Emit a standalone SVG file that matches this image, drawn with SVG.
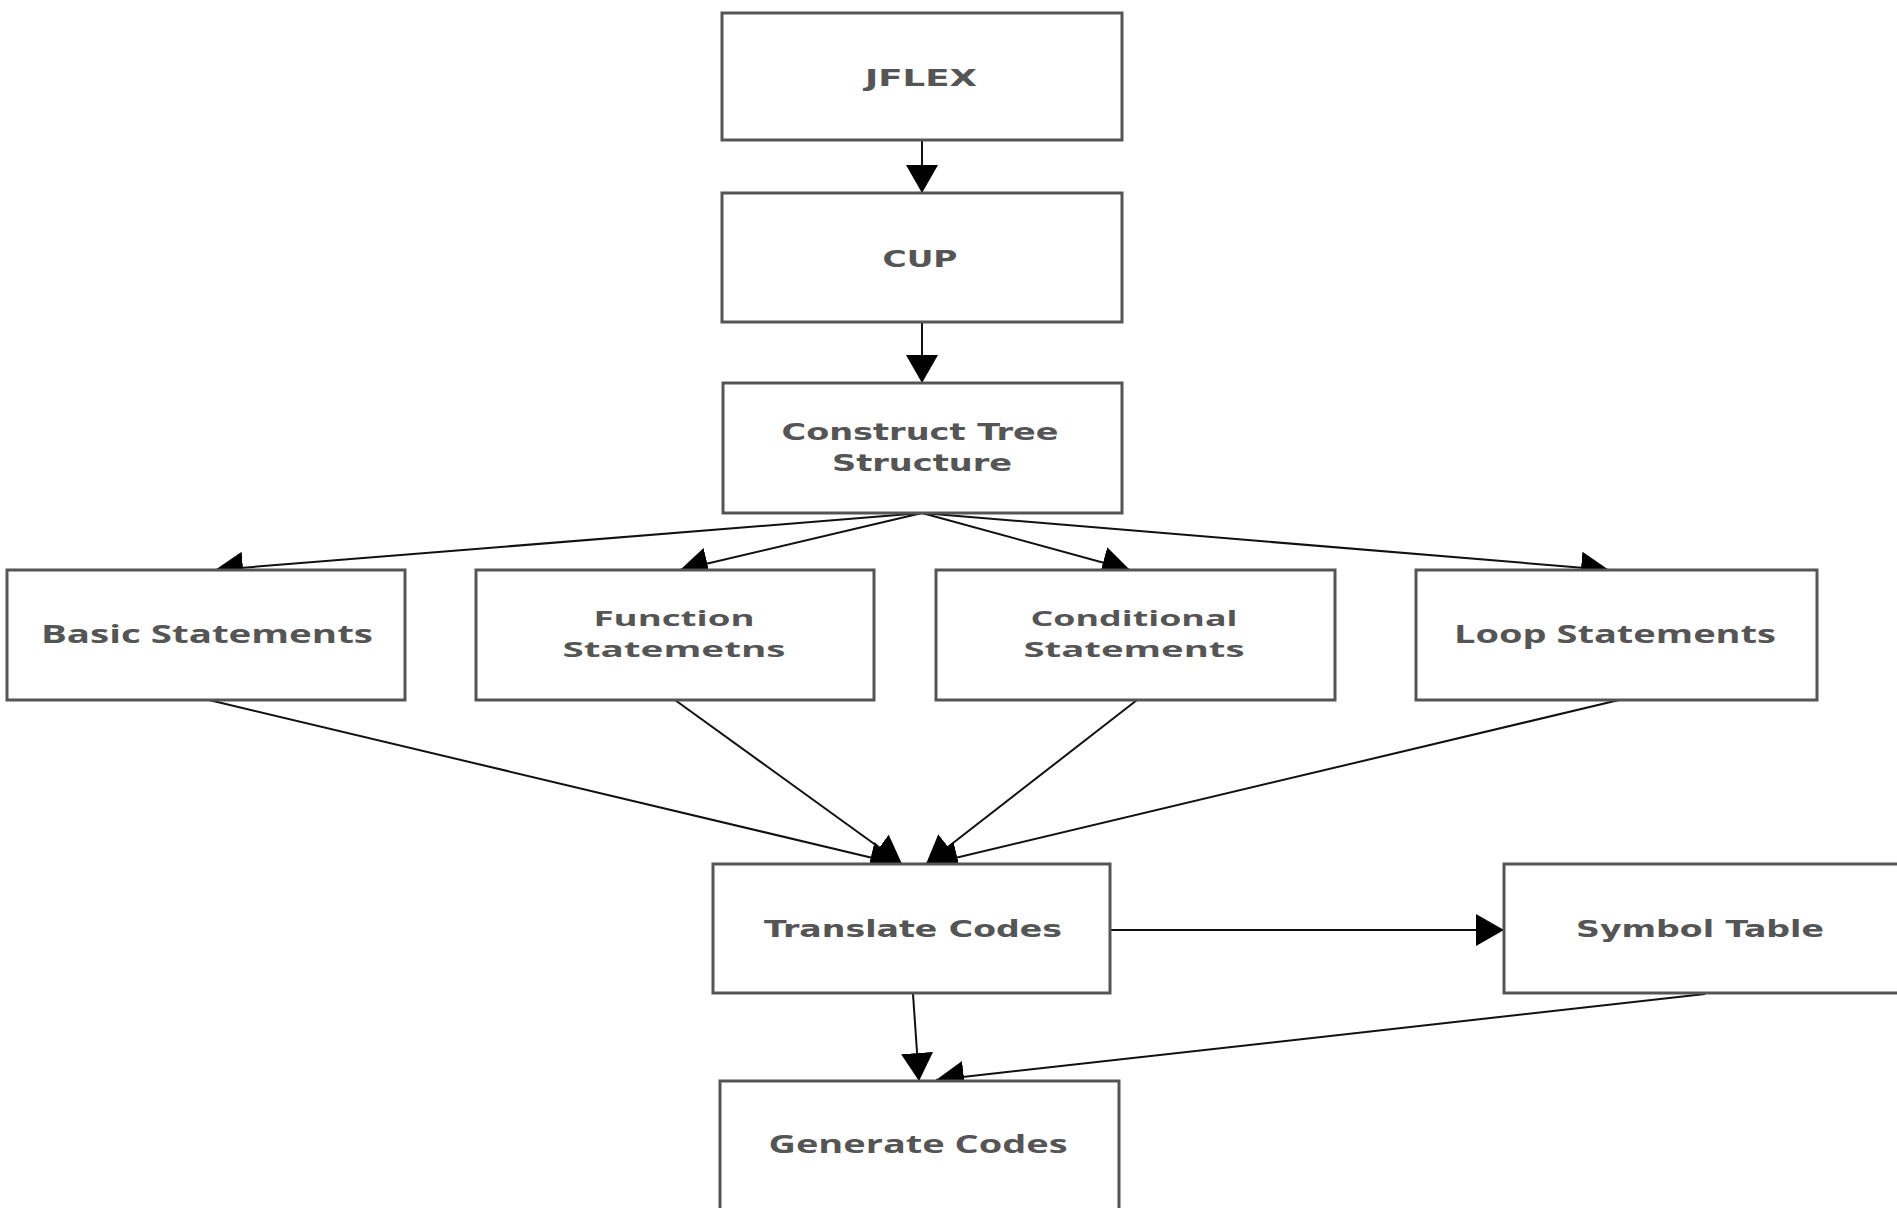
<svg xmlns="http://www.w3.org/2000/svg" width="1897" height="1208" viewBox="0 0 1897 1208">
<style>
.box{fill:#fff;stroke:#555;stroke-width:3}
.w{font-family:"DejaVu Sans",sans-serif;font-weight:bold;font-size:23px;fill:#555;text-anchor:middle}
.n{font-family:"Open Sans","Liberation Sans",sans-serif;font-weight:bold;font-size:25px;fill:#555;text-anchor:middle}
.n2{font-family:"Open Sans","Liberation Sans",sans-serif;font-weight:bold;font-size:21px;fill:#555;text-anchor:middle}
.c{stroke:#111;stroke-width:2;fill:none;marker-end:url(#ah)}
</style>
<defs>
<marker id="ah" markerUnits="userSpaceOnUse" viewBox="0 0 28 32" refX="28" refY="16" markerWidth="28" markerHeight="32" orient="auto">
<path d="M0,0 L28,16 L0,32 z" fill="#000"/>
</marker>
</defs>
<rect width="1897" height="1208" fill="#fff"/>
<g id="connectors">
<line class="c" x1="922" y1="140" x2="922" y2="193"/>
<line class="c" x1="922" y1="322" x2="922" y2="383"/>
<line class="c" x1="922" y1="513" x2="215" y2="570"/>
<line class="c" x1="922" y1="513" x2="680" y2="570"/>
<line class="c" x1="922" y1="513" x2="1130" y2="570"/>
<line class="c" x1="922" y1="513" x2="1609" y2="570"/>
<line class="c" x1="209" y1="700" x2="898" y2="864"/>
<line class="c" x1="675" y1="700" x2="902" y2="864"/>
<line class="c" x1="1137" y1="700" x2="926" y2="864"/>
<line class="c" x1="1619" y1="700" x2="930" y2="864"/>
<line class="c" x1="1111" y1="930" x2="1504" y2="930"/>
<line class="c" x1="913" y1="994" x2="919" y2="1081"/>
<line class="c" x1="1705" y1="994" x2="936" y2="1080"/>
</g>
<g id="jflex"><rect class="box" x="722" y="13" width="400" height="127"/><text class="w" x="921" y="86" textLength="112" lengthAdjust="spacingAndGlyphs">JFLEX</text></g>
<g id="cup"><rect class="box" x="722" y="193" width="400" height="129"/><text class="w" x="920" y="267" textLength="75" lengthAdjust="spacingAndGlyphs">CUP</text></g>
<g id="construct"><rect class="box" x="723" y="383" width="399" height="130"/><text class="w" x="920" y="440" textLength="277" lengthAdjust="spacingAndGlyphs">Construct Tree</text><text class="w" x="922" y="471" textLength="180" lengthAdjust="spacingAndGlyphs">Structure</text></g>
<g id="basic"><rect class="box" x="7" y="570" width="398" height="130"/><text class="n" x="207" y="643" textLength="332" lengthAdjust="spacingAndGlyphs">Basic Statements</text></g>
<g id="function"><rect class="box" x="476" y="570" width="398" height="130"/><text class="n2" x="674" y="626" textLength="161" lengthAdjust="spacingAndGlyphs">Function</text><text class="n2" x="674" y="657" textLength="223" lengthAdjust="spacingAndGlyphs">Statemetns</text></g>
<g id="conditional"><rect class="box" x="936" y="570" width="399" height="130"/><text class="n2" x="1134" y="626" textLength="207" lengthAdjust="spacingAndGlyphs">Conditional</text><text class="n2" x="1134" y="657" textLength="221" lengthAdjust="spacingAndGlyphs">Statements</text></g>
<g id="loop"><rect class="box" x="1416" y="570" width="401" height="130"/><text class="n" x="1615" y="643" textLength="322" lengthAdjust="spacingAndGlyphs">Loop Statements</text></g>
<g id="translate"><rect class="box" x="713" y="864" width="397" height="129"/><text class="w" x="913" y="937" textLength="298" lengthAdjust="spacingAndGlyphs">Translate Codes</text></g>
<g id="symbol"><rect class="box" x="1504" y="864" width="398" height="129"/><text class="w" x="1700" y="937" textLength="248" lengthAdjust="spacingAndGlyphs">Symbol Table</text></g>
<g id="generate"><rect class="box" x="720" y="1081" width="399" height="130"/><text class="n" x="918" y="1153" textLength="299" lengthAdjust="spacingAndGlyphs">Generate Codes</text></g>
</svg>
